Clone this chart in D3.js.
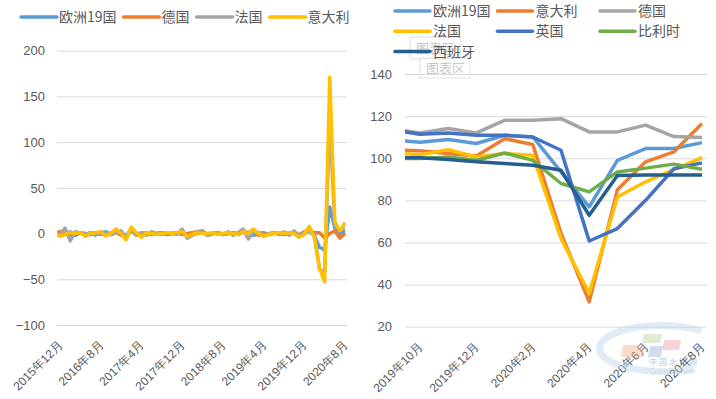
<!DOCTYPE html>
<html>
<head>
<meta charset="utf-8">
<script src="https://cdn.jsdelivr.net/npm/d3@7"></script>
<style>
body { margin: 0; background: #fff; }
svg { display: block; font-family: "Noto Sans CJK SC", "Microsoft YaHei", sans-serif; }
</style>
</head>
<body>
<svg id="chart" width="716" height="399"></svg>
<script>
// ---- left chart: month on month change, 2015-11 .. 2020-08 (first month falls just outside the plot)
var leftStart = [2015, 11];
var leftTicks = ["2015年12月", "2016年8月", "2017年4月", "2017年12月", "2018年8月", "2019年4月", "2019年12月", "2020年8月"];
var leftNames = ["欧洲19国", "德国", "法国", "意大利"];
var leftEu = [0, 1, -1, 2, -2, 1, 0, -1, 1, 0,
              2, -1, 1, 0, -2, 3, -1, 0, 1, -1,
              0, 1, -1, 0, 1, 0, -1, 1, 0, 1,
              -1, 0, 1, -1, 0, 1, -1, 2, 1, -2,
              0, 1, -1, 0, 1, 0, -1, 1, -2, 0,
              4, -3, -15, -18, 29, 6, 0, 3];
var leftDe = [1, 2, 3, -1, 0, 1, -2, 1, 0, -1,
              1, 0, 2, -2, -3, 5, -2, 0, 1, -1,
              0, 1, -1, 0, 1, -1, 0, 1, 2, 3,
              -2, 0, 1, -1, 0, 1, -1, 2, 1, 4,
              -2, 0, -1, 1, 0, -1, 1, 0, -1, 2,
              3, 1, 1, -5, 0, 3, -5, 0];
var leftFr = [0, -2, 6, -8, 2, 1, -1, 1, -2, 2,
              0, -1, 1, 3, -4, 4, -1, 1, -2, 2,
              0, -1, 1, 0, -1, 5, -5, -2, 1, 3,
              -2, 0, 1, -1, 2, -2, 1, 5, -6, 2,
              1, -2, 0, 1, -1, 2, -2, 3, -3, 1,
              2, -1, -39, -42, 125, 9, 4, 5];
var leftIt = [0, -3, -1, 1, 0, 1, -3, 0, 1, 2,
              -3, 0, 5, 0, -7, 7, 1, -4, 1, 0,
              -1, 0, 1, 0, 1, 2, -3, -1, 1, 0,
              0, 1, -1, 0, 1, 0, -1, 2, 0, 5,
              0, -3, -1, 0, 1, 0, 1, 0, -4, -1,
              8, -5, -38, -53, 171, 13, 3, 12];
var leftColors = ["#5B9BD5", "#ED7D31", "#A5A5A5", "#FFC000"];
var leftYTicks = [-100, -50, 0, 50, 100, 150, 200];

// ---- right chart: index level, 2019-09 .. 2020-08 (first month falls just outside the plot)
var rightStart = [2019, 9];
var rightTicks = ["2019年10月", "2019年12月", "2020年2月", "2020年4月", "2020年6月", "2020年8月"];
var rightNames = ["欧洲19国", "意大利", "德国", "法国", "英国", "比利时", "西班牙"];
var rightEu = [108.7, 107.6, 108.9, 107, 110.9, 110.1, 93.5, 76.9, 99, 104.6, 104.6, 107.4];
var rightIt = [104, 103.5, 102.2, 101.1, 109.3, 106.5, 64.4, 31.8, 85, 98.3, 103, 116.5];
var rightDe = [113.9, 112, 114.1, 112, 118, 118, 118.8, 112.5, 112.5, 115.7, 110.3, 109.8];
var rightFr = [102.6, 101.7, 104.1, 100.6, 102.2, 101.4, 61.9, 35.8, 81.6, 88.8, 94.6, 100.3];
var rightUk = [113.5, 111.4, 112, 110.9, 110.9, 110.1, 103.8, 60.7, 66.6, 80, 95, 97.8];
var rightBe = [99.9, 99.9, 100.6, 99, 102.5, 99, 88, 84, 93.5, 95.3, 97.2, 94.8];
var rightEs = [100.2, 100.2, 99.4, 98.3, 97.5, 96.7, 94.3, 72.9, 91.8, 92, 92, 92];
var rightColors = ["#5B9BD5", "#ED7D31", "#A5A5A5", "#FFC000", "#4472C4", "#70AD47", "#255E91"];
var rightYTicks = [20, 40, 60, 80, 100, 120, 140];

var textColor = "#595959";
var gridColor = "#D9D9D9";

function monthLabels(start, n) {
    var out = [];
    var y = start[0], m = start[1];
    for (var i = 0; i < n; i++) {
        out.push(y + "年" + m + "月");
        m++;
        if (m > 12) { m = 1; y++; }
    }
    return out;
}

var svg = d3.select("#chart");

function drawPanel(opt) {
    var labels = monthLabels(opt.start, opt.series[0].length);
    var x = d3.scalePoint().domain(labels).range(opt.xRange);
    var y = d3.scaleLinear().domain(opt.yDomain).range([opt.bottom, opt.top]);
    var g = svg.append("g");

    // grid + y labels
    var yAxis = g.append("g")
        .attr("transform", "translate(" + opt.left + ",0)")
        .call(d3.axisLeft(y).tickValues(opt.yTicks).tickSize(-(opt.right - opt.left)).tickPadding(opt.pad));
    yAxis.select(".domain").remove();
    yAxis.selectAll("line").attr("stroke", gridColor);
    yAxis.selectAll("text").attr("fill", textColor).style("font-size", "13px").style("font-family", null);

    // x labels, rotated
    var xAxis = g.append("g")
        .attr("transform", "translate(0," + opt.bottom + ")")
        .call(d3.axisBottom(x).tickValues(opt.xTicks).tickSize(0));
    xAxis.select(".domain").remove();
    xAxis.selectAll("text")
        .attr("y", 0).attr("dy", "0.35em")
        .attr("text-anchor", "end")
        .attr("transform", "translate(0,18) rotate(-45)")
        .attr("fill", textColor)
        .style("font-size", "12px").style("font-family", null);

    var clipId = opt.id + "-clip";
    svg.append("clipPath").attr("id", clipId).append("rect")
        .attr("x", opt.left).attr("y", 0)
        .attr("width", opt.right - opt.left).attr("height", 399);

    var line = d3.line()
        .x(function(d, i) { return x(labels[i]); })
        .y(function(d) { return y(d); });

    g.append("g").attr("clip-path", "url(#" + clipId + ")")
        .selectAll("path").data(opt.series).enter().append("path")
        .attr("d", line)
        .attr("fill", "none")
        .attr("stroke", function(d, i) { return opt.colors[i]; })
        .attr("stroke-width", 3.5)
        .attr("stroke-linejoin", "round");
    return g;
}

// tooltip ghosts "图表区" left in the screenshot
[[410, 37, 50, 22], [420, 58, 50, 20]].forEach(function(b) {
    var t = svg.append("g").attr("opacity", 0.55);
    t.append("rect").attr("x", b[0]).attr("y", b[1]).attr("width", b[2]).attr("height", b[3])
        .attr("fill", "#fff").attr("stroke", "#c8c8c8");
    t.append("text").attr("x", b[0] + 6).attr("y", b[1] + b[3] / 2 + 5)
        .attr("fill", "#9a9a9a").style("font-size", "13px").text("图表区");
});

drawPanel({
    id: "left", start: leftStart, xTicks: leftTicks,
    series: [leftEu, leftDe, leftFr, leftIt], colors: leftColors,
    yDomain: [-100, 200], yTicks: leftYTicks,
    left: 57, right: 347, top: 50.7, bottom: 325, pad: 12,
    xRange: [54.9, 345]
});

drawPanel({
    id: "right", start: rightStart, xTicks: rightTicks,
    series: [rightEu, rightIt, rightDe, rightFr, rightUk, rightBe, rightEs], colors: rightColors,
    yDomain: [20, 140], yTicks: rightYTicks,
    left: 405, right: 707, top: 74, bottom: 326.7, pad: 13,
    xRange: [391.8, 702]
});

// left legend: single row, items packed by text width
var lx = 21;
leftNames.forEach(function(name, i) {
    var it = svg.append("g").attr("transform", "translate(" + lx + ",17)");
    it.append("line").attr("x1", 0).attr("x2", 36).attr("stroke", leftColors[i])
        .attr("stroke-width", 3.5).attr("stroke-linecap", "round");
    var t = it.append("text").attr("x", 38).attr("dy", "0.35em").attr("fill", textColor)
        .style("font-size", "14px").text(name);
    lx += 38 + t.node().getComputedTextLength() + 7;
});

// right legend: 3 columns
rightNames.forEach(function(name, i) {
    var it = svg.append("g").attr("transform",
        "translate(" + (395 + (i % 3) * 102.5) + "," + (11 + Math.floor(i / 3) * 20.3) + ")");
    it.append("line").attr("x1", 0).attr("x2", 35).attr("stroke", rightColors[i])
        .attr("stroke-width", 3.5).attr("stroke-linecap", "round");
    it.append("text").attr("x", 38).attr("dy", "0.35em").attr("fill", textColor)
        .style("font-size", "14px").text(name);
});

// faint site watermark, bottom right
var wm = svg.append("g").attr("opacity", 0.45);
wm.append("path").attr("d", "M702,331 A62,23 0 1,0 694,368")
    .attr("fill", "none").attr("stroke", "#bcd8f0").attr("stroke-width", 7);
[["#f5b58a", 624, 345, 22, 12], ["#b9d69a", 645, 334, 18, 9], ["#9fb2dc", 651, 346, 13, 11], ["#eea0aa", 665, 340, 17, 10]]
    .forEach(function(r) {
        wm.append("rect").attr("x", r[1]).attr("y", r[2]).attr("width", r[3]).attr("height", r[4])
            .attr("fill", r[0]).attr("transform", "skewX(-12) translate(" + (r[2] * 0.21) + ",0)");
    });
wm.append("text").attr("x", 649).attr("y", 365).attr("fill", "#4f7fc4")
    .style("font-size", "8px").style("letter-spacing", "2px").text("中国水泥网");
wm.append("text").attr("x", 650).attr("y", 374).attr("fill", "#9a9a9a")
    .style("font-size", "7px").text("Ccement.com");
</script>
</body>
</html>
